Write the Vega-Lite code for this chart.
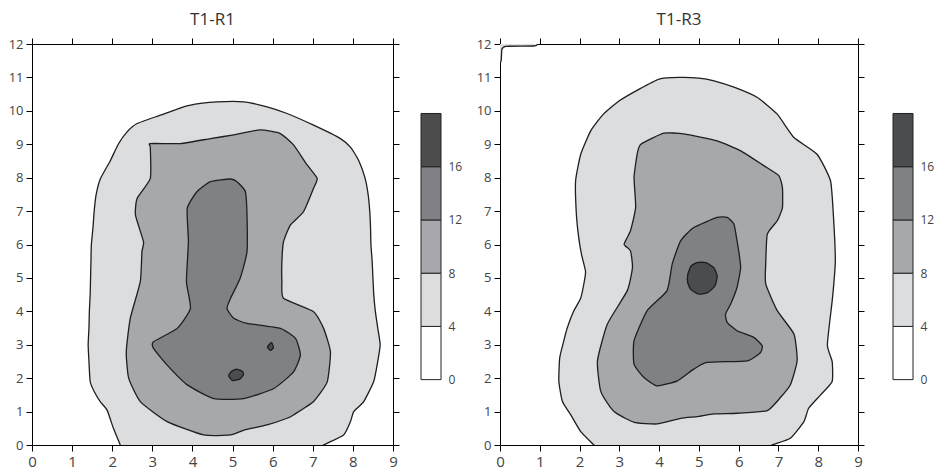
{
"$schema":"https://vega.github.io/schema/vega-lite/v6.json",
"padding":{"left":8,"top":10,"right":5,"bottom":5},
"config":{"view":{"stroke":null},"font":"Open Sans","line":{"interpolate":"cardinal-closed","tension":0.5,"stroke":"#1e1e1e","strokeWidth":1.3,"strokeJoin":"round"},"axis":{"domainColor":"#000","tickColor":"#000","labelColor":"#444","grid":false,"labelFlush":false,"labelOverlap":false,"labelFont":"Open Sans"}},
"datasets":{
"leg":[{"lo":0,"hi":4},{"lo":4,"hi":8},{"lo":8,"hi":12},{"lo":12,"hi":16},{"lo":16,"hi":20}],
"r1":[
{"level":4,"poly":"o","i":-2,"x":2.4,"y":-0.6},{"level":4,"poly":"o","i":-1,"x":2.3,"y":-0.3},
{"level":4,"poly":"o","i":0,"x":2.2,"y":0},{"level":4,"poly":"o","i":1,"x":2.03,"y":0.5},{"level":4,"poly":"o","i":2,"x":1.87,"y":1.05},{"level":4,"poly":"o","i":3,"x":1.7,"y":1.3},{"level":4,"poly":"o","i":4,"x":1.55,"y":1.6},{"level":4,"poly":"o","i":5,"x":1.45,"y":1.9},{"level":4,"poly":"o","i":6,"x":1.42,"y":2.5},{"level":4,"poly":"o","i":7,"x":1.4,"y":3.0},{"level":4,"poly":"o","i":8,"x":1.42,"y":3.5},{"level":4,"poly":"o","i":9,"x":1.43,"y":4.0},{"level":4,"poly":"o","i":10,"x":1.45,"y":4.5},{"level":4,"poly":"o","i":11,"x":1.46,"y":5.0},{"level":4,"poly":"o","i":12,"x":1.47,"y":5.5},{"level":4,"poly":"o","i":13,"x":1.48,"y":6.0},{"level":4,"poly":"o","i":14,"x":1.52,"y":6.5},{"level":4,"poly":"o","i":15,"x":1.55,"y":7.0},{"level":4,"poly":"o","i":16,"x":1.6,"y":7.5},{"level":4,"poly":"o","i":17,"x":1.71,"y":7.98},{"level":4,"poly":"o","i":18,"x":1.95,"y":8.5},{"level":4,"poly":"o","i":19,"x":2.15,"y":9.0},{"level":4,"poly":"o","i":20,"x":2.37,"y":9.37},{"level":4,"poly":"o","i":21,"x":2.62,"y":9.62},{"level":4,"poly":"o","i":22,"x":3.2,"y":9.87},{"level":4,"poly":"o","i":23,"x":3.78,"y":10.12},{"level":4,"poly":"o","i":24,"x":4.2,"y":10.22},{"level":4,"poly":"o","i":25,"x":4.61,"y":10.27},{"level":4,"poly":"o","i":26,"x":5.28,"y":10.27},{"level":4,"poly":"o","i":27,"x":5.86,"y":10.12},{"level":4,"poly":"o","i":28,"x":6.36,"y":9.92},{"level":4,"poly":"o","i":29,"x":7.02,"y":9.57},{"level":4,"poly":"o","i":30,"x":7.69,"y":9.17},{"level":4,"poly":"o","i":31,"x":7.95,"y":8.9},{"level":4,"poly":"o","i":32,"x":8.15,"y":8.5},{"level":4,"poly":"o","i":33,"x":8.3,"y":8.0},{"level":4,"poly":"o","i":34,"x":8.38,"y":7.5},{"level":4,"poly":"o","i":35,"x":8.42,"y":7.0},{"level":4,"poly":"o","i":36,"x":8.44,"y":6.5},{"level":4,"poly":"o","i":37,"x":8.45,"y":6.0},{"level":4,"poly":"o","i":38,"x":8.48,"y":5.5},{"level":4,"poly":"o","i":39,"x":8.5,"y":5.0},{"level":4,"poly":"o","i":40,"x":8.52,"y":4.5},{"level":4,"poly":"o","i":41,"x":8.56,"y":4.0},{"level":4,"poly":"o","i":42,"x":8.62,"y":3.5},{"level":4,"poly":"o","i":43,"x":8.68,"y":3.0},{"level":4,"poly":"o","i":44,"x":8.62,"y":2.5},{"level":4,"poly":"o","i":45,"x":8.52,"y":1.9},{"level":4,"poly":"o","i":46,"x":8.27,"y":1.3},{"level":4,"poly":"o","i":47,"x":8.02,"y":1.0},{"level":4,"poly":"o","i":48,"x":7.94,"y":0.7},{"level":4,"poly":"o","i":49,"x":7.77,"y":0.3},{"level":4,"poly":"o","i":50,"x":7.27,"y":0},{"level":4,"poly":"o","i":51,"x":6.9,"y":-0.25},{"level":4,"poly":"o","i":52,"x":6.6,"y":-0.6},
{"level":8,"poly":"m","i":0,"x":2.95,"y":9.02},{"level":8,"poly":"m","i":1,"x":3.7,"y":9.02},{"level":8,"poly":"m","i":2,"x":4.45,"y":9.17},{"level":8,"poly":"m","i":3,"x":5.03,"y":9.28},{"level":8,"poly":"m","i":4,"x":5.69,"y":9.43},{"level":8,"poly":"m","i":5,"x":6.19,"y":9.32},{"level":8,"poly":"m","i":6,"x":6.52,"y":8.98},{"level":8,"poly":"m","i":7,"x":6.86,"y":8.38},{"level":8,"poly":"m","i":8,"x":7.11,"y":7.98},{"level":8,"poly":"m","i":9,"x":7.02,"y":7.68},{"level":8,"poly":"m","i":10,"x":6.77,"y":6.98},{"level":8,"poly":"m","i":11,"x":6.44,"y":6.58},{"level":8,"poly":"m","i":12,"x":6.27,"y":6.08},{"level":8,"poly":"m","i":13,"x":6.23,"y":5.5},{"level":8,"poly":"m","i":14,"x":6.23,"y":4.89},{"level":8,"poly":"m","i":15,"x":6.27,"y":4.39},{"level":8,"poly":"m","i":16,"x":7.02,"y":3.99},{"level":8,"poly":"m","i":17,"x":7.27,"y":3.49},{"level":8,"poly":"m","i":18,"x":7.44,"y":2.79},{"level":8,"poly":"m","i":19,"x":7.36,"y":1.89},{"level":8,"poly":"m","i":20,"x":7.02,"y":1.3},{"level":8,"poly":"m","i":21,"x":6.52,"y":0.9},{"level":8,"poly":"m","i":22,"x":6.36,"y":0.8},{"level":8,"poly":"m","i":23,"x":5.86,"y":0.6},{"level":8,"poly":"m","i":24,"x":5.3,"y":0.45},{"level":8,"poly":"m","i":25,"x":4.95,"y":0.3},{"level":8,"poly":"m","i":26,"x":4.28,"y":0.3},{"level":8,"poly":"m","i":27,"x":3.37,"y":0.7},{"level":8,"poly":"m","i":28,"x":2.7,"y":1.3},{"level":8,"poly":"m","i":29,"x":2.41,"y":2.0},{"level":8,"poly":"m","i":30,"x":2.35,"y":2.79},{"level":8,"poly":"m","i":31,"x":2.45,"y":3.79},{"level":8,"poly":"m","i":32,"x":2.7,"y":4.89},{"level":8,"poly":"m","i":33,"x":2.74,"y":5.78},{"level":8,"poly":"m","i":34,"x":2.78,"y":6.08},{"level":8,"poly":"m","i":35,"x":2.58,"y":6.88},{"level":8,"poly":"m","i":36,"x":2.62,"y":7.38},{"level":8,"poly":"m","i":37,"x":2.95,"y":7.98},{"level":8,"poly":"m","i":38,"x":2.95,"y":8.9},
{"level":12,"poly":"d","i":0,"x":4.95,"y":7.96},{"level":12,"poly":"d","i":1,"x":4.45,"y":7.88},{"level":12,"poly":"d","i":2,"x":4.11,"y":7.58},{"level":12,"poly":"d","i":3,"x":3.87,"y":7.08},{"level":12,"poly":"d","i":4,"x":3.9,"y":6.08},{"level":12,"poly":"d","i":5,"x":3.85,"y":4.89},{"level":12,"poly":"d","i":6,"x":3.95,"y":4.09},{"level":12,"poly":"d","i":7,"x":3.62,"y":3.49},{"level":12,"poly":"d","i":8,"x":3.03,"y":3.09},{"level":12,"poly":"d","i":9,"x":3.03,"y":2.89},{"level":12,"poly":"d","i":10,"x":3.37,"y":2.39},{"level":12,"poly":"d","i":11,"x":3.87,"y":1.8},{"level":12,"poly":"d","i":12,"x":4.53,"y":1.39},{"level":12,"poly":"d","i":13,"x":5.28,"y":1.39},{"level":12,"poly":"d","i":14,"x":6.03,"y":1.69},{"level":12,"poly":"d","i":15,"x":6.52,"y":2.19},{"level":12,"poly":"d","i":16,"x":6.69,"y":2.69},{"level":12,"poly":"d","i":17,"x":6.57,"y":3.19},{"level":12,"poly":"d","i":18,"x":6.19,"y":3.49},{"level":12,"poly":"d","i":19,"x":5.36,"y":3.64},{"level":12,"poly":"d","i":20,"x":5.03,"y":3.79},{"level":12,"poly":"d","i":21,"x":4.86,"y":4.09},{"level":12,"poly":"d","i":22,"x":4.95,"y":4.39},{"level":12,"poly":"d","i":23,"x":5.19,"y":4.99},{"level":12,"poly":"d","i":24,"x":5.36,"y":5.78},{"level":12,"poly":"d","i":25,"x":5.36,"y":6.88},{"level":12,"poly":"d","i":26,"x":5.32,"y":7.58},{"level":12,"poly":"d","i":27,"x":5.11,"y":7.88},
{"level":16,"poly":"s1","i":0,"x":4.9,"y":2.07},{"level":16,"poly":"s1","i":1,"x":4.97,"y":2.2},{"level":16,"poly":"s1","i":2,"x":5.1,"y":2.27},{"level":16,"poly":"s1","i":3,"x":5.25,"y":2.2},{"level":16,"poly":"s1","i":4,"x":5.27,"y":2.1},{"level":16,"poly":"s1","i":5,"x":5.18,"y":1.97},{"level":16,"poly":"s1","i":6,"x":5.0,"y":1.93},
{"level":16,"poly":"s2","i":0,"x":5.87,"y":2.93},{"level":16,"poly":"s2","i":1,"x":5.97,"y":3.07},{"level":16,"poly":"s2","i":2,"x":6.02,"y":2.92},{"level":16,"poly":"s2","i":3,"x":5.95,"y":2.83}
],
"r3":[
{"level":4,"poly":"o","i":-2,"x":2.7,"y":-0.6},{"level":4,"poly":"o","i":-1,"x":2.55,"y":-0.25},
{"level":4,"poly":"o","i":0,"x":2.36,"y":0},{"level":4,"poly":"o","i":1,"x":2.03,"y":0.4},{"level":4,"poly":"o","i":2,"x":1.78,"y":0.9},{"level":4,"poly":"o","i":3,"x":1.57,"y":1.3},{"level":4,"poly":"o","i":4,"x":1.48,"y":1.9},{"level":4,"poly":"o","i":5,"x":1.5,"y":2.6},{"level":4,"poly":"o","i":6,"x":1.6,"y":3.1},{"level":4,"poly":"o","i":7,"x":1.69,"y":3.5},{"level":4,"poly":"o","i":8,"x":1.85,"y":4.0},{"level":4,"poly":"o","i":9,"x":2.03,"y":4.4},{"level":4,"poly":"o","i":10,"x":2.12,"y":4.9},{"level":4,"poly":"o","i":11,"x":2.15,"y":5.2},{"level":4,"poly":"o","i":12,"x":2.05,"y":5.7},{"level":4,"poly":"o","i":13,"x":1.98,"y":6.2},{"level":4,"poly":"o","i":14,"x":1.92,"y":6.9},{"level":4,"poly":"o","i":15,"x":1.9,"y":7.9},{"level":4,"poly":"o","i":16,"x":2.03,"y":8.7},{"level":4,"poly":"o","i":17,"x":2.28,"y":9.4},{"level":4,"poly":"o","i":18,"x":2.6,"y":9.9},{"level":4,"poly":"o","i":19,"x":3.0,"y":10.3},{"level":4,"poly":"o","i":20,"x":3.5,"y":10.65},{"level":4,"poly":"o","i":21,"x":4.0,"y":10.95},{"level":4,"poly":"o","i":22,"x":4.5,"y":11.0},{"level":4,"poly":"o","i":23,"x":5.0,"y":10.98},{"level":4,"poly":"o","i":24,"x":5.38,"y":10.9},{"level":4,"poly":"o","i":25,"x":5.9,"y":10.7},{"level":4,"poly":"o","i":26,"x":6.47,"y":10.4},{"level":4,"poly":"o","i":27,"x":6.97,"y":9.9},{"level":4,"poly":"o","i":28,"x":7.39,"y":9.2},{"level":4,"poly":"o","i":29,"x":7.97,"y":8.7},{"level":4,"poly":"o","i":30,"x":8.31,"y":7.9},{"level":4,"poly":"o","i":31,"x":8.39,"y":6.7},{"level":4,"poly":"o","i":32,"x":8.43,"y":5.5},{"level":4,"poly":"o","i":33,"x":8.39,"y":4.8},{"level":4,"poly":"o","i":34,"x":8.35,"y":4.3},{"level":4,"poly":"o","i":35,"x":8.23,"y":3.0},{"level":4,"poly":"o","i":36,"x":8.35,"y":2.5},{"level":4,"poly":"o","i":37,"x":8.35,"y":1.9},{"level":4,"poly":"o","i":38,"x":8.06,"y":1.5},{"level":4,"poly":"o","i":39,"x":7.76,"y":1.1},{"level":4,"poly":"o","i":40,"x":7.64,"y":0.7},{"level":4,"poly":"o","i":41,"x":7.3,"y":0.2},{"level":4,"poly":"o","i":42,"x":6.84,"y":0},{"level":4,"poly":"o","i":43,"x":6.5,"y":-0.2},{"level":4,"poly":"o","i":44,"x":6.2,"y":-0.6},
{"level":4,"poly":"c","i":0,"x":-0.2,"y":12.3},{"level":4,"poly":"c","i":1,"x":0.95,"y":12.2},{"level":4,"poly":"c","i":2,"x":0.95,"y":12},{"level":4,"poly":"c","i":3,"x":0.85,"y":11.94},{"level":4,"poly":"c","i":4,"x":0.15,"y":11.93},{"level":4,"poly":"c","i":5,"x":0.05,"y":11.85},{"level":4,"poly":"c","i":6,"x":0.03,"y":11.5},{"level":4,"poly":"c","i":7,"x":0,"y":11.45},{"level":4,"poly":"c","i":8,"x":-0.2,"y":11.4},
{"level":8,"poly":"m","i":0,"x":3.54,"y":9.0},{"level":8,"poly":"m","i":1,"x":4.12,"y":9.33},{"level":8,"poly":"m","i":2,"x":4.62,"y":9.31},{"level":8,"poly":"m","i":3,"x":5.46,"y":9.1},{"level":8,"poly":"m","i":4,"x":6.05,"y":8.8},{"level":8,"poly":"m","i":5,"x":6.63,"y":8.36},{"level":8,"poly":"m","i":6,"x":7.01,"y":8.06},{"level":8,"poly":"m","i":7,"x":7.1,"y":7.7},{"level":8,"poly":"m","i":8,"x":7.1,"y":7.1},{"level":8,"poly":"m","i":9,"x":6.97,"y":6.71},{"level":8,"poly":"m","i":10,"x":6.72,"y":6.31},{"level":8,"poly":"m","i":11,"x":6.68,"y":5.42},{"level":8,"poly":"m","i":12,"x":6.68,"y":4.82},{"level":8,"poly":"m","i":13,"x":6.97,"y":4.02},{"level":8,"poly":"m","i":14,"x":7.39,"y":3.32},{"level":8,"poly":"m","i":15,"x":7.47,"y":2.52},{"level":8,"poly":"m","i":16,"x":7.3,"y":1.8},{"level":8,"poly":"m","i":17,"x":7.05,"y":1.42},{"level":8,"poly":"m","i":18,"x":6.72,"y":1.03},{"level":8,"poly":"m","i":19,"x":5.96,"y":0.95},{"level":8,"poly":"m","i":20,"x":5.38,"y":0.93},{"level":8,"poly":"m","i":21,"x":4.96,"y":0.85},{"level":8,"poly":"m","i":22,"x":4.54,"y":0.8},{"level":8,"poly":"m","i":23,"x":3.95,"y":0.63},{"level":8,"poly":"m","i":24,"x":3.37,"y":0.68},{"level":8,"poly":"m","i":25,"x":2.95,"y":0.93},{"level":8,"poly":"m","i":26,"x":2.78,"y":1.12},{"level":8,"poly":"m","i":27,"x":2.53,"y":1.62},{"level":8,"poly":"m","i":28,"x":2.45,"y":2.52},{"level":8,"poly":"m","i":29,"x":2.7,"y":3.62},{"level":8,"poly":"m","i":30,"x":3.2,"y":4.62},{"level":8,"poly":"m","i":31,"x":3.33,"y":5.31},{"level":8,"poly":"m","i":32,"x":3.28,"y":5.81},{"level":8,"poly":"m","i":33,"x":3.12,"y":6.01},{"level":8,"poly":"m","i":34,"x":3.28,"y":6.41},{"level":8,"poly":"m","i":35,"x":3.41,"y":7.11},{"level":8,"poly":"m","i":36,"x":3.37,"y":8.01},{"level":8,"poly":"m","i":37,"x":3.45,"y":8.71},
{"level":12,"poly":"d","i":0,"x":5.71,"y":6.81},{"level":12,"poly":"d","i":1,"x":5.46,"y":6.81},{"level":12,"poly":"d","i":2,"x":4.87,"y":6.51},{"level":12,"poly":"d","i":3,"x":4.54,"y":6.11},{"level":12,"poly":"d","i":4,"x":4.33,"y":5.42},{"level":12,"poly":"d","i":5,"x":4.2,"y":4.62},{"level":12,"poly":"d","i":6,"x":3.7,"y":4.02},{"level":12,"poly":"d","i":7,"x":3.37,"y":3.12},{"level":12,"poly":"d","i":8,"x":3.37,"y":2.42},{"level":12,"poly":"d","i":9,"x":3.62,"y":2.02},{"level":12,"poly":"d","i":10,"x":3.95,"y":1.77},{"level":12,"poly":"d","i":11,"x":4.46,"y":1.92},{"level":12,"poly":"d","i":12,"x":4.87,"y":2.27},{"level":12,"poly":"d","i":13,"x":5.21,"y":2.47},{"level":12,"poly":"d","i":14,"x":6.22,"y":2.52},{"level":12,"poly":"d","i":15,"x":6.55,"y":2.77},{"level":12,"poly":"d","i":16,"x":6.59,"y":2.97},{"level":12,"poly":"d","i":17,"x":6.38,"y":3.22},{"level":12,"poly":"d","i":18,"x":5.96,"y":3.42},{"level":12,"poly":"d","i":19,"x":5.71,"y":3.67},{"level":12,"poly":"d","i":20,"x":5.67,"y":3.92},{"level":12,"poly":"d","i":21,"x":5.8,"y":4.22},{"level":12,"poly":"d","i":22,"x":5.96,"y":4.72},{"level":12,"poly":"d","i":23,"x":6.05,"y":5.31},{"level":12,"poly":"d","i":24,"x":6.0,"y":5.81},{"level":12,"poly":"d","i":25,"x":5.96,"y":6.11},{"level":12,"poly":"d","i":26,"x":5.88,"y":6.61},
{"level":16,"poly":"s1","i":0,"x":4.72,"y":5.1},{"level":16,"poly":"s1","i":1,"x":4.8,"y":5.35},{"level":16,"poly":"s1","i":2,"x":4.95,"y":5.46},{"level":16,"poly":"s1","i":3,"x":5.18,"y":5.46},{"level":16,"poly":"s1","i":4,"x":5.38,"y":5.3},{"level":16,"poly":"s1","i":5,"x":5.46,"y":5.05},{"level":16,"poly":"s1","i":6,"x":5.4,"y":4.75},{"level":16,"poly":"s1","i":7,"x":5.2,"y":4.55},{"level":16,"poly":"s1","i":8,"x":4.98,"y":4.52},{"level":16,"poly":"s1","i":9,"x":4.8,"y":4.65},{"level":16,"poly":"s1","i":10,"x":4.72,"y":4.85}
]
},
"spacing":14,
"hconcat":[
{"bounds":"flush","spacing":28,"hconcat":[
{"width":361,"height":401,"title":{"text":"T1-R1","fontSize":17,"fontWeight":"normal","color":"#333","offset":9},"data":{"name":"r1"},
"layer":[
{"transform":[{"filter":"datum.level==4"}],"mark":{"type":"line","clip":true},
"encoding":{"x":{"field":"x","type":"quantitative","scale":{"domain":[0,9],"nice":false,"zero":false},"axis":{"orient":"bottom","values":[0,1,2,3,4,5,6,7,8,9],"tickSize":6,"labelFontSize":15,"labelPadding":3,"title":null}},
"y":{"field":"y","type":"quantitative","scale":{"domain":[0,12],"nice":false,"zero":false},"axis":{"orient":"left","values":[0,1,2,3,4,5,6,7,8,9,10,11,12],"tickSize":6,"labelFontSize":13,"labelPadding":3,"title":null}},
"detail":{"field":"poly"},"order":{"field":"i","type":"quantitative"},
"fill":{"field":"level","type":"ordinal","scale":{"domain":[4,8,12,16],"range":["#dcdddf","#a7a8ab","#808184","#4b4c4e"]},"legend":null}}},
{"transform":[{"filter":"datum.level==8"}],"mark":{"type":"line","clip":true},
"encoding":{"x":{"field":"x","type":"quantitative","scale":{"domain":[0,9],"nice":false,"zero":false},"axis":{"orient":"top","values":[0,1,2,3,4,5,6,7,8,9],"tickSize":6,"labels":false,"title":null}},
"y":{"field":"y","type":"quantitative","scale":{"domain":[0,12],"nice":false,"zero":false},"axis":{"orient":"right","values":[0,1,2,3,4,5,6,7,8,9,10,11,12],"tickSize":6,"labels":false,"title":null}},
"detail":{"field":"poly"},"order":{"field":"i","type":"quantitative"},
"fill":{"field":"level","type":"ordinal","scale":{"domain":[4,8,12,16],"range":["#dcdddf","#a7a8ab","#808184","#4b4c4e"]},"legend":null}}},
{"transform":[{"filter":"datum.level==12"}],"mark":{"type":"line","clip":true},
"encoding":{"x":{"field":"x","type":"quantitative","axis":null},"y":{"field":"y","type":"quantitative","axis":null},
"detail":{"field":"poly"},"order":{"field":"i","type":"quantitative"},
"fill":{"field":"level","type":"ordinal","scale":{"domain":[4,8,12,16],"range":["#dcdddf","#a7a8ab","#808184","#4b4c4e"]},"legend":null}}},
{"transform":[{"filter":"datum.level==16"}],"mark":{"type":"line","clip":true},
"encoding":{"x":{"field":"x","type":"quantitative","axis":null},"y":{"field":"y","type":"quantitative","axis":null},
"detail":{"field":"poly"},"order":{"field":"i","type":"quantitative"},
"fill":{"field":"level","type":"ordinal","scale":{"domain":[4,8,12,16],"range":["#dcdddf","#a7a8ab","#808184","#4b4c4e"]},"legend":null}}}
],
"resolve":{"axis":{"x":"independent","y":"independent"}}},
{"width":20,"height":401,"data":{"name":"leg"},"mark":{"type":"rect","stroke":"#222","strokeWidth":1},
"encoding":{"y":{"field":"lo","type":"quantitative","scale":{"domain":[-4.91,25.22],"nice":false,"zero":false},"axis":{"orient":"right","values":[0,4,8,12,16],"ticks":false,"tickSize":0,"domain":false,"labelPadding":7,"labelFontSize":12,"labelBaseline":"middle","title":null}},
"y2":{"field":"hi"},
"color":{"field":"lo","type":"ordinal","scale":{"domain":[0,4,8,12,16],"range":["#ffffff","#dcdddf","#a7a8ab","#808184","#4b4c4e"]},"legend":null}}}
]},
{"bounds":"flush","spacing":35,"hconcat":[
{"width":358,"height":401,"title":{"text":"T1-R3","fontSize":17,"fontWeight":"normal","color":"#333","offset":9},"data":{"name":"r3"},
"layer":[
{"transform":[{"filter":"datum.level==4"}],"mark":{"type":"line","clip":true},
"encoding":{"x":{"field":"x","type":"quantitative","scale":{"domain":[0,9],"nice":false,"zero":false},"axis":{"orient":"bottom","values":[0,1,2,3,4,5,6,7,8,9],"tickSize":6,"labelFontSize":15,"labelPadding":3,"title":null}},
"y":{"field":"y","type":"quantitative","scale":{"domain":[0,12],"nice":false,"zero":false},"axis":{"orient":"left","values":[0,1,2,3,4,5,6,7,8,9,10,11,12],"tickSize":6,"labelFontSize":13,"labelPadding":3,"title":null}},
"detail":{"field":"poly"},"order":{"field":"i","type":"quantitative"},
"fill":{"field":"level","type":"ordinal","scale":{"domain":[4,8,12,16],"range":["#dcdddf","#a7a8ab","#808184","#4b4c4e"]},"legend":null}}},
{"transform":[{"filter":"datum.level==8"}],"mark":{"type":"line","clip":true},
"encoding":{"x":{"field":"x","type":"quantitative","scale":{"domain":[0,9],"nice":false,"zero":false},"axis":{"orient":"top","values":[0,1,2,3,4,5,6,7,8,9],"tickSize":6,"labels":false,"title":null}},
"y":{"field":"y","type":"quantitative","scale":{"domain":[0,12],"nice":false,"zero":false},"axis":{"orient":"right","values":[0,1,2,3,4,5,6,7,8,9,10,11,12],"tickSize":6,"labels":false,"title":null}},
"detail":{"field":"poly"},"order":{"field":"i","type":"quantitative"},
"fill":{"field":"level","type":"ordinal","scale":{"domain":[4,8,12,16],"range":["#dcdddf","#a7a8ab","#808184","#4b4c4e"]},"legend":null}}},
{"transform":[{"filter":"datum.level==12"}],"mark":{"type":"line","clip":true},
"encoding":{"x":{"field":"x","type":"quantitative","axis":null},"y":{"field":"y","type":"quantitative","axis":null},
"detail":{"field":"poly"},"order":{"field":"i","type":"quantitative"},
"fill":{"field":"level","type":"ordinal","scale":{"domain":[4,8,12,16],"range":["#dcdddf","#a7a8ab","#808184","#4b4c4e"]},"legend":null}}},
{"transform":[{"filter":"datum.level==16"}],"mark":{"type":"line","clip":true},
"encoding":{"x":{"field":"x","type":"quantitative","axis":null},"y":{"field":"y","type":"quantitative","axis":null},
"detail":{"field":"poly"},"order":{"field":"i","type":"quantitative"},
"fill":{"field":"level","type":"ordinal","scale":{"domain":[4,8,12,16],"range":["#dcdddf","#a7a8ab","#808184","#4b4c4e"]},"legend":null}}}
],
"resolve":{"axis":{"x":"independent","y":"independent"}}},
{"width":20,"height":401,"data":{"name":"leg"},"mark":{"type":"rect","stroke":"#222","strokeWidth":1},
"encoding":{"y":{"field":"lo","type":"quantitative","scale":{"domain":[-4.91,25.22],"nice":false,"zero":false},"axis":{"orient":"right","values":[0,4,8,12,16],"ticks":false,"tickSize":0,"domain":false,"labelPadding":7,"labelFontSize":12,"labelBaseline":"middle","title":null}},
"y2":{"field":"hi"},
"color":{"field":"lo","type":"ordinal","scale":{"domain":[0,4,8,12,16],"range":["#ffffff","#dcdddf","#a7a8ab","#808184","#4b4c4e"]},"legend":null}}}
]}
]
}
